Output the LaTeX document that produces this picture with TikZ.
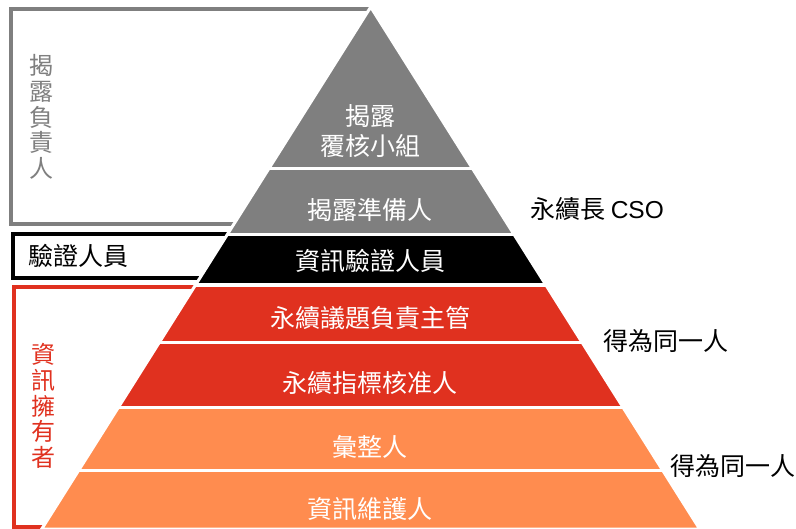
\documentclass[tikz,border=0pt]{standalone}
\usepackage{fontspec}
\setmainfont{Liberation Sans}
\newfontfamily\cjk{Noto Sans CJK TC}
\definecolor{pgray}{HTML}{7F7F7F}
\definecolor{pred}{HTML}{E0311F}
\definecolor{porange}{HTML}{FF8C4F}
\tikzset{
  band/.style={font=\cjk\fontsize{25}{30}\selectfont, text=white, inner sep=0pt, align=center},
  side/.style={font=\cjk\fontsize{25}{30}\selectfont, text=black, inner sep=0pt, anchor=west},
  vert/.style={font=\cjk\fontsize{24}{25.7}\selectfont, inner sep=0pt, align=center},
  bracket/.style={line width=4pt}
}
\begin{document}
\begin{tikzpicture}[x=1pt,y=-1pt]
\useasboundingbox (0,0) rectangle (796,529);
% left brackets
\draw[bracket, pgray] (371,9) -- (11,9) -- (11,224.5) -- (371,224.5);
\draw[bracket, black] (371,234.5) -- (12.5,234.5) -- (12.5,278) -- (371,278);
\draw[bracket, pred] (371,287) -- (14,287) -- (14,527) -- (371,527);
% pyramid
\coordinate (A) at (370.7,7);
\coordinate (L) at (41.7,529);
\coordinate (R) at (699.7,529);
\begin{scope}
  \clip (A) -- (L) -- (R) -- cycle;
  \fill[pgray] (0,0) rectangle (796,234.5);
  \fill[black] (0,234.5) rectangle (796,285.5);
  \fill[pred] (0,285.5) rectangle (796,407.5);
  \fill[porange] (0,407.5) rectangle (796,540);
  \draw[white, line width=3pt] (0,169) -- (796,169);
  \draw[white, line width=3pt] (0,234.5) -- (796,234.5);
  \draw[white, line width=4pt] (0,285.5) -- (796,285.5);
  \draw[white, line width=3pt] (0,342.5) -- (796,342.5);
  \draw[white, line width=3pt] (0,407.5) -- (796,407.5);
  \draw[white, line width=3pt] (0,470.5) -- (796,470.5);
\end{scope}
\draw[white, line width=3pt, line join=miter] (A) -- (L) -- (R) -- cycle;
% band texts
\node[band] (t1) at (370,131) {揭露\\覆核小組};
\node[band] (t2) at (370,210) {揭露準備人};
\node[band] (t3) at (370,261) {資訊驗證人員};
\node[band] (t4) at (370,318.5) {永續議題負責主管};
\node[band] (t5) at (370,383) {永續指標核准人};
\node[band] (t6) at (370,447) {彙整人};
\node[band] (t7) at (370,509) {資訊維護人};
% side texts
\node[side] (cso) at (530,209) {永續長 {\fontsize{24.5}{28}\selectfont\rmfamily CSO}};
\node[side] (same1) at (603,341) {得為同一人};
\node[side] (same2) at (670,466) {得為同一人};
% left labels
\node[vert, text=pgray] (disc) at (41,117) {揭\\露\\負\\責\\人};
\node[side] (ver) at (28,256) {驗證人員};
\node[vert, text=pred] (own) at (43,406) {資\\訊\\擁\\有\\者};
\end{tikzpicture}
\end{document}
